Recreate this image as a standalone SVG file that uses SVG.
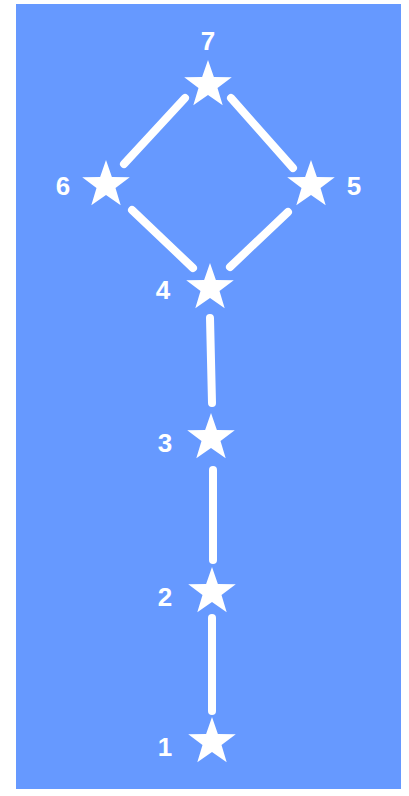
<svg xmlns="http://www.w3.org/2000/svg" width="409" height="796" viewBox="0 0 409 796">
<style>
.bg{fill:#6699ff}
.e{stroke:#fff;stroke-width:8;stroke-linecap:round;fill:none}
.s{fill:#fff}
.t{fill:#fff;font-family:"Liberation Sans",Arial,sans-serif;font-weight:bold;font-size:26px}
</style>
<defs>
<polygon id="star" points="0,-25 5.88,-8.09 23.78,-7.73 9.51,3.09 14.69,20.23 0,10 -14.69,20.23 -9.51,3.09 -23.78,-7.73 -5.88,-8.09"/>
</defs>
<rect class="bg" x="16" y="4" width="385" height="785"/>
<g id="connectors">
<line class="e" x1="185" y1="98" x2="124" y2="164"/>
<line class="e" x1="231" y1="98" x2="293" y2="168"/>
<line class="e" x1="132" y1="210" x2="193" y2="268"/>
<line class="e" x1="288" y1="212" x2="230" y2="267"/>
<line class="e" x1="210" y1="318" x2="212" y2="403"/>
<line class="e" x1="213" y1="470" x2="213" y2="560"/>
<line class="e" x1="212" y1="618" x2="212" y2="711"/>
</g>
<g id="n7"><use href="#star" class="s" x="208" y="85"/><text class="t" x="208" y="50" text-anchor="middle">7</text></g>
<g id="n6"><use href="#star" class="s" x="106" y="185"/><text class="t" x="63" y="195" text-anchor="middle">6</text></g>
<g id="n5"><use href="#star" class="s" x="311" y="185"/><text class="t" x="354" y="195" text-anchor="middle">5</text></g>
<g id="n4"><use href="#star" class="s" x="210" y="288"/><text class="t" x="163" y="299" text-anchor="middle">4</text></g>
<g id="n3"><use href="#star" class="s" x="211" y="438"/><text class="t" x="165" y="452" text-anchor="middle">3</text></g>
<g id="n2"><use href="#star" class="s" x="212" y="592"/><text class="t" x="165" y="606" text-anchor="middle">2</text></g>
<g id="n1"><use href="#star" class="s" x="212" y="742"/><text class="t" x="165" y="756" text-anchor="middle">1</text></g>
</svg>
